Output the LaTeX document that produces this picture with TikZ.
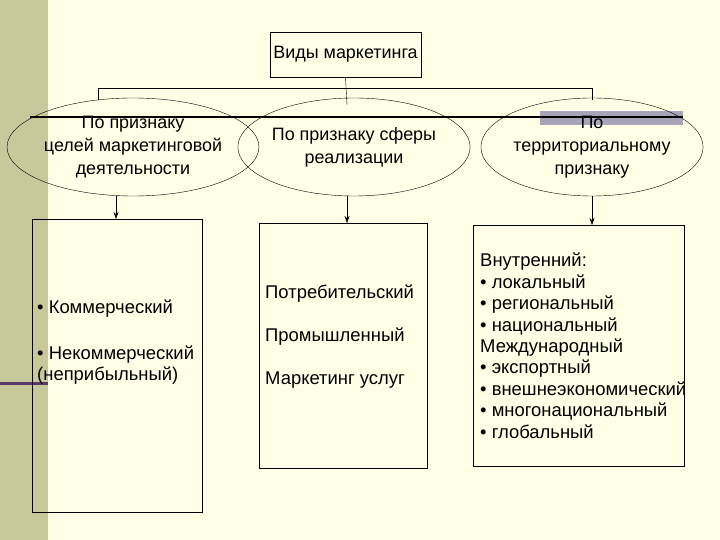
\documentclass[tikz,border=0pt]{standalone}
\usepackage{fontspec}
\setmainfont{Liberation Sans}
\usetikzlibrary{shapes.geometric,arrows.meta}
\definecolor{bg}{HTML}{FFFFE6}
\definecolor{strip}{HTML}{C8C89A}
\definecolor{purp}{HTML}{5A3A6A}
\definecolor{greybar}{HTML}{A8A4B8}
\begin{document}
\begin{tikzpicture}[x=1bp,y=-1bp,
  ell/.style={ellipse,draw,thin,minimum width=204bp,minimum height=98bp,align=center,font=\fontsize{18}{23}\selectfont,inner sep=0pt},
  box/.style={draw,thin},
  txt/.style={align=left,anchor=north west,font=\fontsize{18.5}{21.5}\selectfont,inner sep=0pt},
  arr/.style={-{Stealth[length=7bp,width=5bp]},thin}]
\fill[bg] (0,0) rectangle (720,540);
\useasboundingbox (0,0) rectangle (720,540);
\fill[strip] (0,0) rectangle (48,540);
\draw[purp,line width=3bp] (0,383) -- (48,383);
\fill[greybar] (540,111) rectangle (683,125);
\node[box,minimum width=151bp,minimum height=45bp,font=\fontsize{18}{20}\selectfont] (top) at (345.5,54.5) {Виды маркетинга};
\node[ell] (e1) at (133,147) {По признаку\\целей маркетинговой\\деятельности};
\node[ell] (e2) at (354,147) {По признаку сферы\\реализации};
\node[ell] (e3) at (592,147) {По\\территориальному\\признаку};
\coordinate (hl) at (98,88);
\coordinate (hr) at (592,88);
\draw (top.south) -- (347,105);
\draw (98,100) -- (hl) -- (hr) -- (592,100);
\draw[line width=1.8bp] (30,117) -- (683,117);
\node[box,minimum width=170bp,minimum height=293bp,anchor=north west] (b1) at (32,219) {};
\node[box,minimum width=168bp,minimum height=245bp,anchor=north west] (b2) at (259,223) {};
\node[box,minimum width=211bp,minimum height=241bp,anchor=north west] (b3) at (473,225) {};
\draw[arr] (116,196) -- (116,219);
\draw[arr] (347,196) -- (347,223);
\draw[arr] (592,196) -- (592,225);
\node[txt] (t1) at (37,300) {• Коммерческий\\[24bp]• Некоммерческий\\(неприбыльный)};
\node[txt] (t2) at (265,285) {Потребительский\\[21.5bp]Промышленный\\[21.5bp]Маркетинг услуг};
\node[txt] (t3) at (480,253) {Внутренний:\\• локальный\\• региональный\\• национальный\\Международный\\• экспортный\\• внешнеэкономический\\• многонациональный\\• глобальный};
\end{tikzpicture}
\end{document}
